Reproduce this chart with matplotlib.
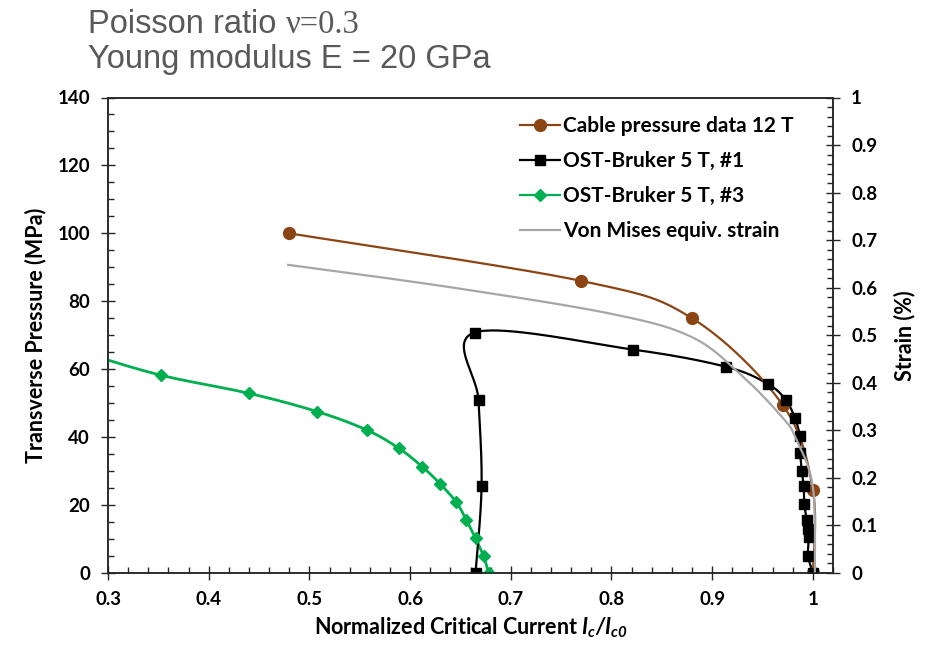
import numpy as np
import matplotlib
matplotlib.use('Agg')
import matplotlib.pyplot as plt
from matplotlib.ticker import MultipleLocator
from matplotlib.lines import Line2D

# ---------------- data ----------------
cable_x = [0.48, 0.77, 0.88, 0.97, 1.0, 1.0]
cable_y = [100, 86, 75, 49.5, 24.5, 0]

ost1_x = [0.665, 0.671, 0.668, 0.664, 0.821, 0.914, 0.955, 0.973, 0.982, 0.987,
          0.9875, 0.989, 0.991, 0.9915, 0.994, 0.9955, 0.996, 0.9953, 1.0]
ost1_y = [0, 25.5, 50.8, 70.8, 65.8, 60.7, 55.7, 51.0, 45.7, 40.4,
          35.2, 30.0, 25.5, 20.4, 15.5, 13.0, 10.6, 5.1, 0]

ost3_x = [0.28, 0.353, 0.44, 0.508, 0.557, 0.589, 0.612, 0.630, 0.646, 0.656,
          0.665, 0.673, 0.678]
ost3_y = [64.5, 58.2, 52.9, 47.5, 42.1, 36.7, 31.3, 26.2, 20.8, 15.5,
          10.2, 4.9, 0]

vm_x = [0.479, 0.64, 0.80, 0.88, 0.93, 0.969, 0.9825, 1.0, 1.002]
vm_strain = [0.648, 0.601, 0.545, 0.496, 0.414, 0.329, 0.286, 0.181, 0.0]

x_ticks = [0.3, 0.4, 0.5, 0.6, 0.7, 0.8, 0.9, 1.0]
x_ticklabels = ['0.3', '0.4', '0.5', '0.6', '0.7', '0.8', '0.9', '1']
y_ticks = [0, 20, 40, 60, 80, 100, 120, 140]
y2_ticks = [0, 0.1, 0.2, 0.3, 0.4, 0.5, 0.6, 0.7, 0.8, 0.9, 1.0]
y2_ticklabels = ['0', '0.1', '0.2', '0.3', '0.4', '0.5', '0.6', '0.7', '0.8', '0.9', '1']

# ---------------- style ----------------
BROWN = '#8B4513'
GREEN = '#00B050'
GRAY = '#A6A6A6'
AXC = '#262626'
FONT = 'Lato'

plt.rcParams['mathtext.fontset'] = 'custom'
plt.rcParams['mathtext.it'] = 'Lato:bold:italic'
plt.rcParams['mathtext.rm'] = 'Lato:bold:italic'
plt.rcParams['mathtext.bf'] = 'Lato:bold'

W, H = 930, 649
fig = plt.figure(figsize=(W / 100, H / 100), dpi=100)
L, R, B, T = 108 / W, 833 / W, 1 - 573 / H, 1 - 97.5 / H
ax = fig.add_axes([L, B, R - L, T - B])
ax2 = ax.twinx()

XMIN, XMAX = 0.3, 1.02
YMIN, YMAX = 0, 140
Y2MIN, Y2MAX = 0, 1.0
ax.set_xlim(XMIN, XMAX)
ax.set_ylim(YMIN, YMAX)
ax2.set_ylim(Y2MIN, Y2MAX)

axw = (R - L) * W
axh = (T - B) * H
SX = axw / (XMAX - XMIN)
SY = axh / (YMAX - YMIN)
SY2 = axh / (Y2MAX - Y2MIN)


def excel_smooth(x, y, sx, sy, n=40):
    P = np.column_stack([np.asarray(x, float) * sx, np.asarray(y, float) * sy])
    out = [P[0]]
    t = np.linspace(0, 1, n)[1:, None]
    for i in range(len(P) - 1):
        p0 = P[i - 1] if i > 0 else P[i]
        p1 = P[i]
        p2 = P[i + 1]
        p3 = P[i + 2] if i + 2 < len(P) else P[i + 1]
        c1 = p1 + (p2 - p0) / 6
        c2 = p2 - (p3 - p1) / 6
        seg = (1 - t) ** 3 * p1 + 3 * (1 - t) ** 2 * t * c1 + 3 * (1 - t) * t ** 2 * c2 + t ** 3 * p2
        out.extend(seg)
    out = np.array(out)
    return out[:, 0] / sx, out[:, 1] / sy


# curves
for xs, ys, c, lw in [(ost3_x, ost3_y, GREEN, 2.0), (ost1_x, ost1_y, 'black', 1.6),
                      (cable_x, cable_y, BROWN, 1.6)]:
    sx_, sy_ = excel_smooth(xs, ys, SX, SY)
    ax.plot(sx_, sy_, color=c, lw=lw, zorder=3, solid_capstyle='butt')

ax.plot(ost3_x, ost3_y, ls='none', marker='D', ms=6.5, color=GREEN, zorder=4)
ax.plot(ost1_x, ost1_y, ls='none', marker='s', ms=7.5, color='black', zorder=5)
ax.plot(cable_x, cable_y, ls='none', marker='o', ms=8.5, color=BROWN, zorder=4)

vx, vy = excel_smooth(vm_x, vm_strain, SX, SY2)
ax2.plot(vx, vy, color=GRAY, lw=1.6, zorder=2)

# ticks
for a in (ax, ax2):
    for s in a.spines.values():
        s.set_color(AXC)
        s.set_linewidth(1.1)

ax.set_xticks(x_ticks)
ax.set_xticklabels(x_ticklabels)
ax.xaxis.set_minor_locator(MultipleLocator(0.02))
ax.set_yticks(y_ticks)
ax.yaxis.set_minor_locator(MultipleLocator(5))
ax2.set_yticks(y2_ticks)
ax2.set_yticklabels(y2_ticklabels)
ax2.yaxis.set_minor_locator(MultipleLocator(0.02))

ax.tick_params(axis='both', which='major', direction='inout', length=10, width=1.0,
               color=AXC, pad=8, labelsize=13.5, labelcolor='black')
ax.tick_params(axis='both', which='minor', direction='in', length=4, width=1.0, color=AXC)
ax.tick_params(axis='y', right=False, which='both')
ax2.tick_params(axis='y', which='major', direction='inout', length=10, width=1.0,
                color=AXC, pad=8, labelsize=13.5)
ax2.tick_params(axis='y', which='minor', direction='in', length=4, width=1.0, color=AXC)
for lab in ax.get_xticklabels() + ax.get_yticklabels() + ax2.get_yticklabels():
    lab.set_fontfamily(FONT)
    lab.set_fontweight('bold')

ax.set_ylabel('Transverse Pressure (MPa)', fontfamily=FONT, fontweight='bold',
              fontsize=15.5, labelpad=8)
ax2.set_ylabel('Strain (%)', fontfamily=FONT, fontweight='bold', fontsize=15.5, labelpad=12)
ax.set_xlabel(r'Normalized Critical Current $I_c/I_{c0}$', fontfamily=FONT,
              fontweight='bold', fontsize=15.5, labelpad=5)

# legend
handles = [
    Line2D([], [], color=BROWN, lw=1.6, marker='o', ms=8.5),
    Line2D([], [], color='black', lw=1.6, marker='s', ms=7.5),
    Line2D([], [], color=GREEN, lw=1.6, marker='D', ms=6.5),
    Line2D([], [], color=GRAY, lw=1.6),
]
labels = ['Cable pressure data 12 T', 'OST-Bruker 5 T, #1', 'OST-Bruker 5 T, #3',
          'Von Mises equiv. strain']
leg = ax2.legend(handles, labels, loc='upper left', bbox_to_anchor=(520 / W, 1 - 116 / H),
                 bbox_transform=fig.transFigure, frameon=False, borderpad=0,
                 borderaxespad=0, handlelength=1.9, handletextpad=0.15, labelspacing=0.72,
                 prop=dict(family=FONT, weight='bold', size=15))

# title texts
TCOL = '#595959'
t1 = fig.text(88 / W, 1 - 33 / H, 'Poisson ratio ', fontfamily='Liberation Sans',
              fontsize=23.5, color=TCOL, va='baseline', ha='left')
fig.canvas.draw()
bb = t1.get_window_extent()
fig.text(bb.x1 / W, 1 - 33 / H, 'ν=0.3', fontfamily='Liberation Serif',
         fontsize=23.5, color=TCOL, va='baseline', ha='left')
fig.text(88 / W, 1 - 68 / H, 'Young modulus E = 20 GPa', fontfamily='Liberation Sans',
         fontsize=23.5, color=TCOL, va='baseline', ha='left')

fig.savefig('out.png', dpi=100)
